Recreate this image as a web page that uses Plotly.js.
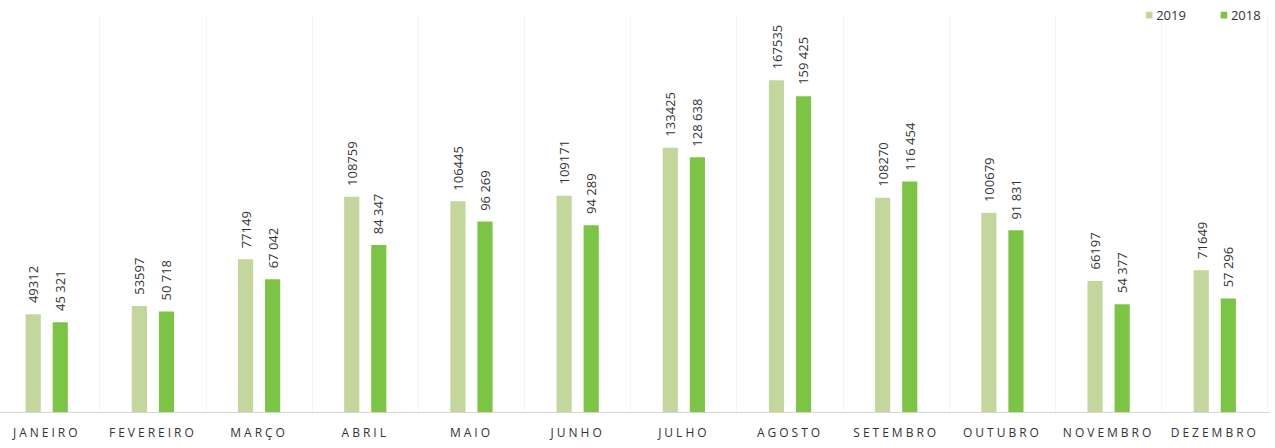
<!DOCTYPE html>
<html>
<head>
<meta charset="utf-8">
<script src="https://cdn.plot.ly/plotly-3.0.1.min.js"></script>
<style>
  html, body { margin: 0; padding: 0; background: #ffffff; }
  #chart { width: 1275px; height: 448px; }
  .xtick text { letter-spacing: 3px; }
  .legend .legendpoints path { transform: translate(33px, 0px) scale(0.55); }
</style>
</head>
<body>
<div id="chart"></div>
<script>
const months = ["JANEIRO", "FEVEREIRO", "MARÇO", "ABRIL", "MAIO", "JUNHO", "JULHO", "AGOSTO", "SETEMBRO", "OUTUBRO", "NOVEMBRO", "DEZEMBRO"];
const values2019 = [49312, 53597, 77149, 108759, 106445, 109171, 133425, 167535, 108270, 100679, 66197, 71649];
const values2018 = [45321, 50718, 67042, 84347, 96269, 94289, 128638, 159425, 116454, 91831, 54377, 57296];
const labels2019 = ["49312", "53597", "77149", "108759", "106445", "109171", "133425", "167535", "108270", "100679", "66197", "71649"];
const labels2018 = ["45 321", "50 718", "67 042", "84 347", "96 269", "94 289", "128 638", "159 425", "116 454", "91 831", "54 377", "57 296"];

const labelFont = { family: "Open Sans, sans-serif", size: 13, color: "#333333" };

const traces = [
  {
    type: "bar", name: "2019", x: months, y: values2019,
    marker: { color: "#c3d69b" }, hoverinfo: "x+y"
  },
  {
    type: "bar", name: "2018", x: months, y: values2018,
    marker: { color: "#7cc444" }, hoverinfo: "x+y"
  }
];

// value labels as annotations anchored to the data through the axes
const annotations = [];
months.forEach((m, i) => {
  annotations.push({
    x: m, y: values2019[i], xref: "x", yref: "y", text: labels2019[i],
    textangle: -90, showarrow: false, xanchor: "center", yanchor: "bottom",
    xshift: -13.5, yshift: 9, font: labelFont
  });
  annotations.push({
    x: m, y: values2018[i], xref: "x", yref: "y", text: labels2018[i],
    textangle: -90, showarrow: false, xanchor: "center", yanchor: "bottom",
    xshift: 13.5, yshift: 9, font: labelFont
  });
});

const layout = {
  width: 1275, height: 448,
  margin: { l: 0, r: 5, t: 12, b: 36 },
  paper_bgcolor: "#ffffff", plot_bgcolor: "#ffffff",
  barmode: "group", bargap: 0.49, bargroupgap: 0.44,
  showlegend: true,
  legend: {
    orientation: "h", x: 0.997, xanchor: "right", y: 1.04, yanchor: "top",
    font: { family: "Open Sans, sans-serif", size: 13, color: "#333333" },
    itemwidth: 30, traceorder: "normal", bgcolor: "rgba(0,0,0,0)"
  },
  annotations: annotations,
  xaxis: {
    type: "category", range: [-0.44, 11.52],
    tickson: "boundaries", ticks: "", showgrid: true, gridcolor: "#f4f4f4", gridwidth: 1,
    showline: true, linecolor: "#d9d9d9", linewidth: 1,
    tickfont: { family: "Open Sans, sans-serif", size: 12, color: "#333333" },
    ticklabelstandoff: 10, fixedrange: true
  },
  yaxis: {
    range: [0, 200000], showgrid: false, zeroline: false, showticklabels: false,
    showline: false, ticks: "", fixedrange: true
  }
};

Plotly.newPlot("chart", traces, layout, { displayModeBar: false, staticPlot: true });
</script>
</body>
</html>
